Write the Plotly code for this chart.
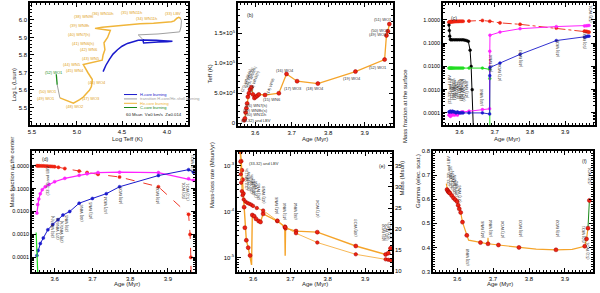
import plotly.graph_objects as go

W, H = 600, 293
FONT = "Liberation Sans"
ORANGE = "#f5a42a"
GOLD = "#f0b53a"
RED = "#ee2211"
REDL = "#a00000"
BLUE = "#1a1acc"
MAG = "#ff22ff"
GREEN = "#22dd22"
GRAY = "#a0a0a0"

# ---------------- Panel (a): HR diagram ----------------
blue_logT = [4.71, 4.68, 4.64, 4.60, 4.55, 4.50, 4.44, 4.38, 4.32, 4.26, 4.20, 4.12, 4.04, 3.97, 3.94, 4.00, 4.10, 4.20, 4.26, 4.27]
blue_logL = [5.705, 5.74, 5.775, 5.805, 5.83, 5.85, 5.866, 5.877, 5.884, 5.886, 5.886, 5.884, 5.881, 5.879, 5.878, 5.876, 5.874, 5.871, 5.868, 5.89]
gray1_logT = [4.27, 4.30, 4.32, 4.10, 3.95, 3.86, 3.845, 3.84, 3.85]
gray1_logL = [5.89, 5.905, 5.915, 5.92, 5.925, 5.932, 5.96, 5.995, 6.01]
orange_logT = [3.85, 3.87, 3.89, 3.92, 3.95, 4.05, 4.15, 4.30, 4.45, 4.60, 4.72, 4.80, 4.72, 4.63, 4.66, 4.70, 4.69, 4.71, 4.72, 4.85, 4.93, 4.88, 4.83, 4.84, 4.86, 4.93, 4.97, 5.04, 5.12, 5.19]
orange_logL = [6.01, 6.015, 6.01, 5.995, 5.99, 5.985, 5.982, 5.978, 5.972, 5.965, 5.958, 5.952, 5.945, 5.94, 5.90, 5.87, 5.83, 5.80, 5.77, 5.755, 5.745, 5.70, 5.66, 5.62, 5.60, 5.56, 5.545, 5.525, 5.54, 5.555]
gray2_logT = [5.19, 5.21, 5.22]
gray2_logL = [5.555, 5.60, 5.63]
green_logT = [5.22, 5.225, 5.23]
green_logL = [5.63, 5.66, 5.69]
a_label_text = ["(38) WN9h", "(36) WN10h", "(35) WN11h", "(34) WN11h", "(33) LBV", "(39) WN8h",
                "(40) WN7(h)", "(41) WN6(h)", "(42) WN6", "(43) WN5", "(44) WN5", "(45) WN4",
                "(46) WO4", "(50) WO1", "(49) WO1", "(48) WO2", "(47) WO3", "(52) WO1"]
a_label_T = [4.93, 4.71, 4.39, 4.23, 3.93, 4.97, 4.97, 4.93, 4.87, 4.84, 5.06, 5.02, 4.78, 5.32, 5.34, 5.02, 4.84, 5.26]
a_label_L = [6.019, 6.038, 6.044, 6.01, 6.038, 5.97, 5.919, 5.867, 5.83, 5.78, 5.744, 5.712, 5.64, 5.593, 5.549, 5.504, 5.549, 5.70]

# ---------------- Panel (b): Teff vs age ----------------
b_age = [3.570, 3.572, 3.574, 3.576, 3.578, 3.580, 3.583, 3.586, 3.590, 3.594, 3.598, 3.602, 3.606, 3.610,
         3.627, 3.665, 3.686, 3.715, 3.772, 3.875, 3.955, 3.960, 3.964, 3.968]
b_teff = [5e3, 8e3, 18e3, 25e3, 33e3, 44e3, 50e3, 56e3, 60e3, 48e3, 42e3, 44e3, 46e3, 48e3,
          47e3, 50e3, 82e3, 70e3, 66e3, 86e3, 106e3, 146e3, 153e3, 165e3]
b_lab = ["(51) WO1", "(50) WO1", "(49) WO1", "(52) WO1", "(19) WO4", "(18) WO4", "(17) WO3", "(16) WO4",
         "(15) WN6", "(26) WN7(h)", "(29) WN8h(s)", "(30) WN11h", "(33-32) and LBV"]
b_lab_age = [3.950, 3.943, 3.937, 3.937, 3.866, 3.764, 3.704, 3.682, 3.645, 3.603, 3.602, 3.600, 3.603]
b_lab_T = [1.72e5, 1.55e5, 1.47e5, 0.93e5, 0.75e5, 0.58e5, 0.58e5, 0.88e5, 0.40e5, 0.30e5, 0.22e5, 0.14e5, 0.05e5]
b_rot_lab = ["(27) WN9h(s)", "(28) WN7(s)", "(25) WN6(h)", "(24) WN5(h)", "(14) WN6"]
b_rot_age = [3.577, 3.583, 3.590, 3.597, 3.640]
b_rot_T = [0.72e5, 0.76e5, 0.78e5, 0.70e5, 0.62e5]

# ---------------- Panel (c): surface abundances ----------------
c_age = b_age
c_He = [0.80, 0.82, 0.83, 0.84, 0.84, 0.85, 0.85, 0.86, 0.86, 0.87, 0.87, 0.88, 0.88, 0.88,
        0.90, 0.95, 0.88, 0.75, 0.65, 0.45, 0.33, 0.32, 0.31, 0.30]
c_H_age = [3.570, 3.571, 3.572, 3.574, 3.576, 3.580, 3.585, 3.590, 3.595, 3.600, 3.605, 3.610, 3.615,
           3.620, 3.625, 3.630, 3.633, 3.636, 3.640]
c_H = [0.6, 0.35, 0.2, 0.145, 0.14, 0.14, 0.14, 0.14, 0.14, 0.14, 0.14, 0.14, 0.135, 0.13, 0.12, 0.05,
       0.01, 0.001, 0.00001]
c_N_age = [3.570, 3.572, 3.574, 3.576, 3.578, 3.580, 3.583, 3.586, 3.590, 3.594, 3.598, 3.602, 3.606,
           3.610, 3.627, 3.665, 3.6855, 3.686, 3.6865]
c_N = [0.0085] * 16 + [0.0075, 0.003, 1e-6]
c_C_age = [3.570, 3.572, 3.574, 3.576, 3.578, 3.580, 3.583, 3.586, 3.590, 3.594, 3.598, 3.602, 3.606,
           3.610, 3.627, 3.665, 3.6855, 3.686, 3.6865, 3.715, 3.772, 3.875, 3.955, 3.960, 3.964, 3.968]
c_C = [0.00008, 0.00009, 0.00007, 0.00008, 0.00009, 0.00008, 0.0001, 0.00008, 0.00009, 0.00008,
       0.0001, 0.0001, 0.00011, 0.00011, 0.00012, 0.00014, 0.00015, 0.045, 0.22, 0.30, 0.42, 0.52,
       0.55, 0.56, 0.57, 0.58]
c_O_age = c_C_age
c_O = [0.00011, 0.00011, 0.00012, 0.00011, 0.00011, 0.00012, 0.00011, 0.00011, 0.0001, 0.00011,
       0.0001, 0.0001, 0.0001, 0.0001, 0.0001, 0.0001, 0.00009, 0.004, 0.009, 0.014, 0.033, 0.13,
       0.18, 0.19, 0.2, 0.2]
c_lab = ["(44) WN6", "(46) WN4", "(47) WO4", "(48) WO3", "(49) WO2", "(50) WO1", "(52) WO1"]
c_lab_age = [3.664, 3.690, 3.713, 3.772, 3.877, 3.957, 3.975]
c_lab_logy = [-3.31, -1.85, -2.24, -1.64, -1.21, -0.86, 0.30]
c_cl_lab = ["(33-32) and LBV", "(31) WN11h", "(30) WN11h", "(29) WN8h", "(28) WN7", "(27) WN9h", "(26) WN7(h)",
            "(25) WN6(h)", "(24) WN5(h)", "(43) WN8"]
c_cl_age = [3.572, 3.577, 3.582, 3.587, 3.592, 3.597, 3.602, 3.607, 3.612, 3.620]

# ---------------- Panel (d): central abundances ----------------
d_He_age = [3.553, 3.556, 3.560, 3.565, 3.570, 3.575, 3.580, 3.585, 3.590, 3.595, 3.600, 3.610, 3.627,
            3.665, 3.686, 3.715, 3.772, 3.875, 3.955, 3.959, 3.961, 3.9625]
d_He = [0.99, 0.985, 0.98, 0.975, 0.97, 0.96, 0.95, 0.94, 0.93, 0.92, 0.9, 0.85, 0.75, 0.58, 0.5,
        0.42, 0.32, 0.12, 0.0075, 0.001, 0.0001, 0.000001]
d_C_age = [3.553, 3.555, 3.558, 3.562, 3.567, 3.575, 3.585, 3.600, 3.627, 3.665, 3.686, 3.715, 3.772,
           3.875, 3.955, 3.968]
d_C = [0.0085, 0.02, 0.035, 0.06, 0.09, 0.12, 0.15, 0.2, 0.28, 0.38, 0.44, 0.5, 0.52, 0.5, 0.27, 0.23]
d_O_age = [3.553, 3.556, 3.562, 3.570, 3.582, 3.595, 3.609, 3.622, 3.640, 3.665, 3.700, 3.737, 3.772,
           3.875, 3.955, 3.968]
d_O = [0.00012, 0.0002, 0.0004, 0.0007, 0.0016, 0.0027, 0.0044, 0.007, 0.01, 0.023, 0.037, 0.06,
       0.12, 0.37, 0.67, 0.52]
d_Ne_age = [3.551, 3.553, 3.555, 3.556]
d_Ne = [0.0012, 0.0003, 0.00005, 0.00001]
d_lab = ["(32-33) and LBV", "(26) WN7(h)", "(27) WN6(h)", "(28) WN5(h)", "(29) WN5", "(44) WN6",
         "(45) WN5", "(47) WO4", "(48) WO3", "(49) WO2", "(50) WO1", "(51) WO1", "(52) WO1"]
d_lab_age = [3.582, 3.596, 3.609, 3.619, 3.633, 3.672, 3.694, 3.733, 3.773, 3.871, 3.940, 3.951, 3.967]
d_lab_logy = [-0.65, -2.67, -2.75, -2.85, -2.5, -2.06, -1.94, -1.72, -1.29, -1.29, -1.08, -1.13, 0.12]

# ---------------- Panel (e): mass-loss rate and mass ----------------
e_mdot_age = [3.5665, 3.568, 3.570, 3.572, 3.574, 3.576, 3.578, 3.582, 3.587, 3.592, 3.596, 3.598,
              3.603, 3.608, 3.615, 3.620, 3.627, 3.665, 3.685, 3.686, 3.687, 3.715, 3.772, 3.875,
              3.955, 3.962, 3.968]
e_mdot = [2.0e-3, 1.26e-3, 8e-4, 5e-4, 2.5e-4, 1.26e-4, 4.5e-5, 2.4e-5, 1.66e-5, 1.12e-5, 7e-6, 8.5e-5,
          8e-5, 7e-5, 6.3e-5, 6e-5, 9e-5, 6.3e-5, 4.7e-5, 1.1e-5, 4.4e-5, 3.8e-5, 3.6e-5, 1.8e-5,
          1.18e-5, 1.26e-5, 1.6e-5]
e_mdot_mk = [True, True, True, True, True, True, True, True, True, True, False, True, True, True, True,
             True, True, True, True, False, True, True, True, True, True, True, True]
e_mass_age = [3.565, 3.566, 3.567, 3.568, 3.570, 3.572, 3.575, 3.580, 3.585, 3.590, 3.595, 3.600,
              3.610, 3.627, 3.665, 3.686, 3.715, 3.772, 3.875, 3.955, 3.962, 3.968]
e_mass = [39.0, 36.0, 33.0, 31.0, 29.0, 28.0, 27.0, 26.5, 26.2, 26.0, 25.8, 25.5, 25.0, 24.4, 22.0,
          20.5, 19.0, 16.8, 14.0, 12.8, 12.7, 12.6]
e_lab = ["(44) WN6", "(45) WN4", "(46) WN4", "(47) WO4", "(48) WO3", "(49) WO2", "(50) WO1", "(51) WO1",
         "(31) WN11h", "(30) WN9h", "(29) WN8h", "(28) WN7", "(27) WN6", "(26) WN5", "(43) WN8"]
e_lab_age = [3.665, 3.686, 3.715, 3.772, 3.875, 3.950, 3.957, 3.964, 3.584, 3.590, 3.596, 3.602, 3.608,
             3.614, 3.627]
e_lab_logy = [-3.85, -3.98, -3.98, -3.92, -4.35, -4.45, -4.42, -4.40, -3.3, -3.35, -3.4, -3.45, -3.5,
              -3.55, -3.62]

# ---------------- Panel (f): Eddington Gamma ----------------
f_line_age = [3.570, 3.572, 3.574, 3.576, 3.578, 3.580, 3.585, 3.590, 3.595, 3.600, 3.603, 3.606, 3.610,
              3.615, 3.627, 3.632, 3.650, 3.665, 3.685, 3.686, 3.687, 3.715, 3.772, 3.820, 3.875, 3.920,
              3.955, 3.960, 3.964]
f_line_gam = [0.665, 0.64, 0.635, 0.63, 0.628, 0.625, 0.615, 0.605, 0.598, 0.59, 0.575, 0.56, 0.545,
              0.505, 0.45, 0.43, 0.425, 0.42, 0.415, 0.44, 0.415, 0.41, 0.40, 0.393, 0.39, 0.392,
              0.405, 0.435, 0.48]
f_pt_age = [3.572, 3.574, 3.576, 3.578, 3.580, 3.585, 3.590, 3.595, 3.600, 3.603, 3.606, 3.610, 3.615,
            3.627, 3.665, 3.686, 3.715, 3.772, 3.875, 3.955, 3.960, 3.964, 3.968]
f_pt_gam = [0.64, 0.635, 0.63, 0.628, 0.625, 0.615, 0.605, 0.598, 0.59, 0.575, 0.56, 0.545, 0.505,
            0.45, 0.42, 0.415, 0.41, 0.40, 0.39, 0.405, 0.435, 0.48, 0.595]
f_green_age = [3.964, 3.968]
f_green_gam = [0.48, 0.595]
f_lab = ["(44) WN6", "(46) WN4", "(47) WO4", "(48) WO3", "(49) WO2", "(50) WO1", "(51) WO1", "(52) WO1",
         "(43) WN8", "(33-32) and LBV", "(31) WN11h", "(30) WN9h", "(29) WN8h", "(28) WN7", "(27) WN6"]
f_lab_age = [3.669, 3.691, 3.725, 3.775, 3.878, 3.950, 3.960, 3.968, 3.627, 3.575, 3.581, 3.587,
             3.593, 3.599, 3.606]
f_lab_y = [0.475, 0.48, 0.475, 0.48, 0.48, 0.455, 0.385, 0.70, 0.36, 0.72, 0.69, 0.675, 0.66, 0.645,
           0.625]

# ---------------- figure construction ----------------
fig = go.Figure()
LAB = 4  # smallest annotation font size


def xd(x0, x1):
    return [x0 / W, x1 / W]


def yd(y0, y1):
    return [1 - y1 / H, 1 - y0 / H]


def axis(domain, rng, anchor, **kw):
    d = dict(domain=domain, range=rng, anchor=anchor, showline=True, linecolor="black", linewidth=1.5,
             mirror="ticks", ticks="inside", ticklen=4, tickwidth=1, tickcolor="black", automargin=False,
             tickfont=dict(size=6, family=FONT, color="black"), showgrid=False, zeroline=False)
    d.update(kw)
    return d


def agex(domain, rng, anchor):
    return axis(domain, rng, anchor, tickvals=[3.6, 3.7, 3.8, 3.9],
                ticktext=["3.6", "3.7", "3.8", "3.9"],
                minor=dict(ticks="inside", ticklen=2, tickcolor="black", dtick=0.01, tick0=3.5))


logvals = [1, 0.1, 0.01, 0.001, 0.0001]
logtext = ["1.0000", "0.1000", "0.0100", "0.0010", "0.0001"]
logminor = dict(ticks="inside", ticklen=2, tickcolor="black", dtick="D1")

lay = dict(
    width=W, height=H, margin=dict(l=0, r=0, t=0, b=0, autoexpand=False), paper_bgcolor="white",
    plot_bgcolor="white", showlegend=False, font=dict(family=FONT, size=6),
    xaxis=axis(xd(30, 188), [5.522, 3.767], "y", tickvals=[5.5, 5.0, 4.5, 4.0],
               ticktext=["5.5", "5.0", "4.5", "4.0"],
               minor=dict(ticks="inside", ticklen=2, tickcolor="black", dtick=0.05, tick0=4.0)),
    yaxis=axis(yd(3, 125), [5.40, 6.097], "x", tickvals=[5.5, 5.6, 5.7, 5.8, 5.9, 6.0],
               ticktext=["5.5", "5.6", "5.7", "5.8", "5.9", "6.0"],
               minor=dict(ticks="inside", ticklen=2, tickcolor="black", dtick=0.02, tick0=5.0)),
    xaxis2=agex(xd(238, 393), [3.553, 3.978], "y2"),
    yaxis2=axis(yd(3, 126), [-4500, 2.0e5], "x2", tickvals=[0, 5e4, 1e5, 1.5e5, 2e5],
                ticktext=["0", "5.0×10<sup>4</sup>", "1.0×10<sup>5</sup>", "1.5×10<sup>5</sup>",
                          "2.0×10<sup>5</sup>"],
                minor=dict(ticks="inside", ticklen=2, tickcolor="black", dtick=1e4, tick0=0)),
    xaxis3=agex(xd(443, 595), [3.553, 3.985], "y3"),
    yaxis3=axis(yd(3, 125), [-4.52, 0.73], "x3", type="log", tickfont=dict(size=5.5, family=FONT, color="black"),
                tickvals=logvals, ticktext=logtext, minor=logminor),
    xaxis4=agex(xd(32, 195), [3.54, 3.972], "y4"),
    yaxis4=axis(yd(151, 272), [-4.64, 0.64], "x4", type="log", tickfont=dict(size=5.5, family=FONT, color="black"),
                tickvals=logvals, ticktext=logtext, minor=logminor),
    xaxis5=agex(xd(237, 392), [3.557, 3.972], "y5"),
    yaxis5=axis(yd(152, 272), [-5.31, -2.70], "x5", type="log",
                tickvals=[1e-3, 1e-4, 1e-5],
                ticktext=["10<sup>-3</sup>", "10<sup>-4</sup>", "10<sup>-5</sup>"], minor=logminor,
                mirror=False),
    yaxis7=axis(yd(152, 272), [9.8, 38.3], "x5", overlaying="y5", side="right",
                tickvals=[10, 15, 20, 25, 30, 35], ticktext=["10", "15", "20", "25", "30", "35"],
                mirror=False,
                minor=dict(ticks="inside", ticklen=2, tickcolor="black", dtick=1, tick0=0)),
    xaxis6=agex(xd(433, 593), [3.533, 3.978], "y6"),
    yaxis6=axis(yd(151, 272), [0.298, 0.80], "x6",
                tickvals=[0.3, 0.4, 0.5, 0.6, 0.7, 0.8], ticktext=["0.3", "0.4", "0.5", "0.6", "0.7", "0.8"],
                minor=dict(ticks="inside", ticklen=2, tickcolor="black", dtick=0.01, tick0=0.3)),
)
fig.update_layout(**lay)


def line(x, y, color, width=1.2, xa="x", ya="y", dash="solid", mode="lines", msize=3.5, mcolor=None,
         mline=None):
    fig.add_trace(go.Scatter(x=x, y=y, mode=mode, xaxis=xa, yaxis=ya,
                             line=dict(color=color, width=width, dash=dash),
                             marker=dict(size=msize, color=mcolor or color,
                                         line=dict(width=0.5, color=mline or (mcolor or color))),
                             hoverinfo="skip"))


ann = []

# axis titles (placed in pixel positions of the reference)
titles = [("Log Teff (K)", 110, 139, 0), ("Log L (Lsun)", 9, 67, -90),
          ("Age (Myr)", 315, 139, 0), ("Teff (K)", 209, 63, -90),
          ("Age (Myr)", 522, 139, 0), ("Mass fraction at the surface", 410, 67, -90),
          ("Age (Myr)", 112, 289, 0), ("Mass fraction at the center", 6, 210, -90),
          ("Age (Myr)", 315, 289, 0), ("Mass-loss rate (Msun/yr)", 212, 210, -90),
          ("Mass (Msun)", 407, 198, -90),
          ("Age (Myr)", 515, 289, 0), ("Gamma (elec. scat.)", 423, 210, -90)]
for t, px, py, ang in titles:
    ann.append(dict(x=px / W, y=1 - py / H, xref="paper", yref="paper", text=t, showarrow=False,
                    textangle=ang, font=dict(size=6, color="#222", family=FONT)))

# (a)
line(blue_logT, blue_logL, BLUE, 1.5)
line(gray1_logT, gray1_logL, GRAY, 1.0)
line(orange_logT, orange_logL, GOLD, 1.5)
line(gray2_logT, gray2_logL, GRAY, 1.0)
line(green_logT, green_logL, "#1a8a1a", 1.3)

for t, T, L in zip(a_label_text, a_label_T, a_label_L):
    ann.append(dict(x=T, y=L, xref="x", yref="y", text=t, showarrow=False,
                    font=dict(size=LAB, color="#1a8a1a" if t == "(52) WO1" else "#e0a020", family=FONT)))
leg = [("H-core burning", BLUE, 5.574), ("transition H-core/He-shell burning", GRAY, 5.549),
       ("He-core burning", GOLD, 5.524), ("C-core burning", "#1a8a1a", 5.50)]
shapes = []
for name, col, yv in leg:
    shapes.append(dict(type="line", xref="x", yref="y", x0=4.478, x1=4.333, y0=yv, y1=yv,
                       line=dict(color=col, width=1)))
    ann.append(dict(x=4.322, y=yv, xref="x", yref="y", text=name, showarrow=False, xanchor="left",
                    font=dict(size=LAB, color=col, family=FONT)))
ann.append(dict(x=4.478, y=5.462, xref="x", yref="y", text="60 Msun  V=0 km/s  Z=0.014", showarrow=False,
                xanchor="left", font=dict(size=4.3, color="#222", family=FONT)))

# (b)
line(b_age, b_teff, ORANGE, 1.3, "x2", "y2", mode="lines+markers", msize=4, mcolor=RED, mline=REDL)
for t, a, T in zip(b_lab, b_lab_age, b_lab_T):
    ann.append(dict(x=a, y=T, xref="x2", yref="y2", text=t, showarrow=False,
                    font=dict(size=LAB, color="#333", family=FONT)))
for t, a, T in zip(b_rot_lab, b_rot_age, b_rot_T):
    ann.append(dict(x=a, y=T, xref="x2", yref="y2", text=t, showarrow=False, textangle=-70,
                    font=dict(size=LAB, color="#333", family=FONT)))
ann.append(dict(x=3.585, y=1.8e5, xref="x2", yref="y2", text="(b)", showarrow=False,
                font=dict(size=5, color="#222", family=FONT)))

# (c)
line(c_age, c_He, RED, 0.9, "x3", "y3", dash="dashdot", mode="lines+markers", msize=3.2)
line(c_H_age, c_H, "black", 1.0, "x3", "y3", mode="lines+markers", msize=2.8)
line(c_N_age, c_N, GREEN, 1.0, "x3", "y3", mode="lines+markers", msize=2.8)
line(c_C_age, c_C, MAG, 1.0, "x3", "y3", mode="lines+markers", msize=2.8)
line(c_O_age, c_O, BLUE, 0.9, "x3", "y3", mode="lines+markers", msize=2.8)
for t, a, ly in zip(c_lab, c_lab_age, c_lab_logy):
    ann.append(dict(x=a, y=ly, xref="x3", yref="y3", text=t, showarrow=False, textangle=-90,
                    font=dict(size=LAB, color="#333", family=FONT)))
for t, a in zip(c_cl_lab, c_cl_age):
    ann.append(dict(x=a, y=-3.0, xref="x3", yref="y3", text=t, showarrow=False, textangle=-90,
                    font=dict(size=LAB, color="#333", family=FONT)))
ann.append(dict(x=3.585, y=0.08, xref="x3", yref="y3", text="(c)", showarrow=False,
                font=dict(size=5, color="#222", family=FONT)))

# (d)
line(d_He_age, d_He, RED, 0.9, "x4", "y4", dash="dash", mode="lines+markers", msize=3.2)
line(d_C_age, d_C, MAG, 1.2, "x4", "y4", mode="lines+markers", msize=3.0)
line(d_O_age, d_O, BLUE, 1.0, "x4", "y4", mode="lines+markers", msize=3.0)
line(d_Ne_age, d_Ne, GREEN, 1.2, "x4", "y4")
for t, a, ly in zip(d_lab, d_lab_age, d_lab_logy):
    ann.append(dict(x=a, y=ly, xref="x4", yref="y4", text=t, showarrow=False, textangle=-90,
                    font=dict(size=LAB, color="#333", family=FONT)))
ann.append(dict(x=3.575, y=0.3, xref="x4", yref="y4", text="(d)", showarrow=False,
                font=dict(size=5, color="#222", family=FONT)))

# (e)
line(e_mass_age, e_mass, ORANGE, 0.8, "x5", "y7", mode="lines+markers", msize=3.5, mcolor=RED, mline=REDL)
line(e_mdot_age, e_mdot, ORANGE, 1.4, "x5", "y5")
fig.add_trace(go.Scatter(x=[a for a, m in zip(e_mdot_age, e_mdot_mk) if m],
                         y=[v for v, m in zip(e_mdot, e_mdot_mk) if m], mode="markers", xaxis="x5",
                         yaxis="y5", marker=dict(size=4, color=RED, line=dict(width=0.5, color=REDL)),
                         hoverinfo="skip"))
for t, a, ly in zip(e_lab, e_lab_age, e_lab_logy):
    ann.append(dict(x=a, y=ly, xref="x5", yref="y5", text=t, showarrow=False, textangle=-90,
                    font=dict(size=LAB, color="#333", family=FONT)))
ann.append(dict(x=3.584, y=-2.96, xref="x5", yref="y5", text="(33-32) and LBV", showarrow=False,
                xanchor="left", font=dict(size=LAB, color="#333", family=FONT)))
ann.append(dict(x=3.945, y=-3.0, xref="x5", yref="y5", text="(e)", showarrow=False,
                font=dict(size=5, color="#222", family=FONT)))

# (f)
line(f_line_age, f_line_gam, ORANGE, 1.2, "x6", "y6")
line(f_green_age, f_green_gam, "#1a8a1a", 1.0, "x6", "y6")
fig.add_trace(go.Scatter(x=f_pt_age, y=f_pt_gam, mode="markers", xaxis="x6", yaxis="y6",
                         marker=dict(size=4, color=RED, line=dict(width=0.5, color=REDL)), hoverinfo="skip"))
for t, a, g in zip(f_lab, f_lab_age, f_lab_y):
    ann.append(dict(x=a, y=g, xref="x6", yref="y6", text=t, showarrow=False, textangle=-90,
                    font=dict(size=LAB, color="#333", family=FONT)))
ann.append(dict(x=3.955, y=0.76, xref="x6", yref="y6", text="(f)", showarrow=False,
                font=dict(size=5, color="#222", family=FONT)))

fig.update_layout(annotations=ann, shapes=shapes)
fig.write_html("out.html", config={"displayModeBar": False},
               post_script="document.body.style.margin='0px';")
